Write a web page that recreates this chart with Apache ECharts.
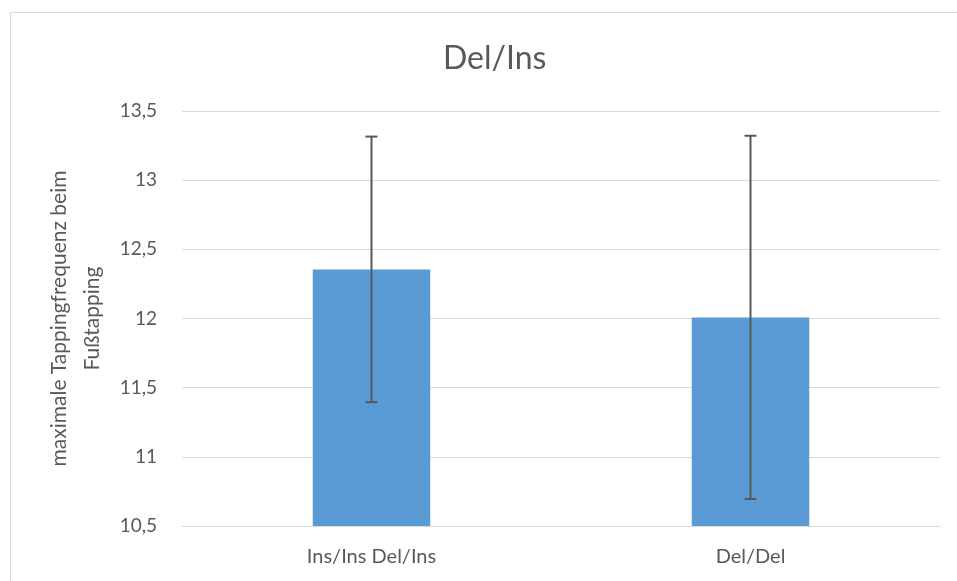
<!DOCTYPE html>
<html><head><meta charset="utf-8">
<script src="https://cdn.jsdelivr.net/npm/echarts@6/dist/echarts.min.js"></script>
<style>html,body{margin:0;padding:0;background:#fff}#c{width:957px;height:581px}</style>
</head><body><div id="c"></div>
<script>
const categories = ['Ins/Ins Del/Ins', 'Del/Del'];
const means = [12.355, 12.008];
const errors = [0.96, 1.313];
const yTicks = [10.5, 11, 11.5, 12, 12.5, 13, 13.5];

const errData = categories.map((c, i) => [i, means[i] - errors[i], means[i] + errors[i]]);
const font = 'Lato';
const chart = echarts.init(document.getElementById('c'));
chart.setOption({
  animation: false,
  textStyle: { fontFamily: font },
  graphic: [{ type: 'rect', shape: { x: 10.5, y: 12.5, width: 960, height: 600 },
    style: { fill: 'none', stroke: '#d9d9d9', lineWidth: 1 }, silent: true }],
  title: { text: 'Del/Ins', left: 438, top: 38,
    textStyle: { fontFamily: font, fontSize: 32, fontWeight: 'normal', color: '#595959' } },
  grid: { left: 182, right: 17, top: 111, bottom: 55 },
  xAxis: { type: 'category', data: categories,
    axisLine: { lineStyle: { color: '#d9d9d9', width: 1 } }, axisTick: { show: false },
    axisLabel: { color: '#595959', fontSize: 20, margin: 21, fontFamily: font } },
  yAxis: { type: 'value', min: 10.5, max: 13.5, interval: 0.5,
    name: 'maximale Tappingfrequenz beim\nFußtapping', nameLocation: 'middle', nameRotate: 90, nameGap: 72,
    nameTextStyle: { color: '#595959', fontSize: 21, fontFamily: font, lineHeight: 33 },
    axisLabel: { color: '#595959', fontSize: 19, margin: 25, fontFamily: font,
      formatter: v => String(yTicks.find(t => Math.abs(t - v) < 1e-9) ?? v).replace('.', ',') },
    splitLine: { lineStyle: { color: '#d9d9d9', width: 1 } }, axisLine: { show: false }, axisTick: { show: false } },
  series: [
    { type: 'bar', data: means, barWidth: '31%', itemStyle: { color: '#5b9bd5' } },
    { type: 'custom', data: errData, z: 10,
      renderItem: (params, api) => {
        const x = api.value(0);
        const lo = api.coord([x, api.value(1)]);
        const hi = api.coord([x, api.value(2)]);
        const h = 6;
        const st = { stroke: '#595959', lineWidth: 2 };
        return { type: 'group', children: [
          { type: 'line', shape: { x1: lo[0], y1: lo[1], x2: hi[0], y2: hi[1] }, style: st },
          { type: 'line', shape: { x1: lo[0] - h, y1: lo[1], x2: lo[0] + h, y2: lo[1] }, style: st },
          { type: 'line', shape: { x1: hi[0] - h, y1: hi[1], x2: hi[0] + h, y2: hi[1] }, style: st }
        ]};
      } }
  ]
});
</script></body></html>
